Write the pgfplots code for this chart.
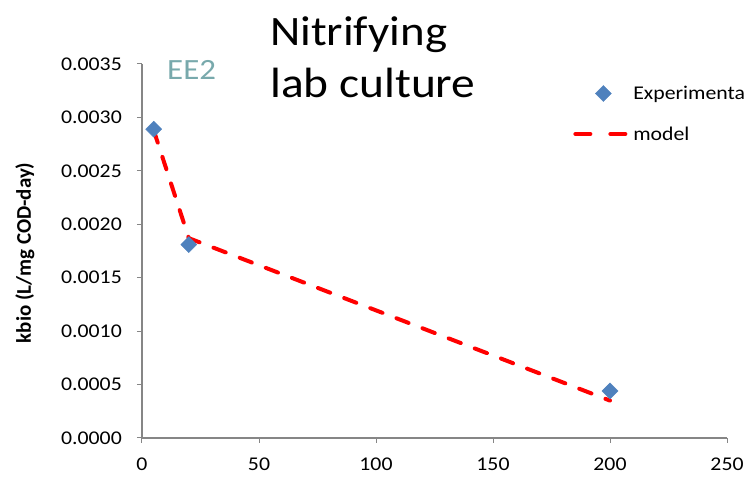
\documentclass[border=0pt]{standalone}
\usepackage{pgfplots}
\pgfplotsset{compat=1.18}
\usepackage{fontspec}
\setmainfont{Carlito}[FakeStretch=1.12]
\newfontfamily\lblfont{Carlito}
\definecolor{axgray}{HTML}{868686}
\definecolor{expblue}{HTML}{4F81BD}
\definecolor{eetxt}{HTML}{78A9AC}
\pgfplotsset{
  modellegend/.style={legend image code/.code={\draw[red, line width=4bp, line cap=round, dash pattern=on 15bp off 20bp] (0bp,0bp) -- (50bp,0bp);}},
  explegend/.style={legend image code/.code={\path[draw=none] (0bp,0bp) -- (50bp,0bp); \path[draw=none, fill=none] plot[only marks, mark=square*, mark size=5.66bp, mark options={rotate=45, fill=expblue, draw=expblue}] coordinates {(28bp,0bp)};}},
}
\begin{document}
\begin{tikzpicture}[x=1bp,y=1bp]
\path[use as bounding box, clip] (-142,-43) rectangle (603,438);
\begin{axis}[
  at={(0,0)}, anchor=south west,
  scale only axis, width=585bp, height=374bp,
  xmin=0, xmax=250, ymin=0, ymax=0.0035,
  xtick={0,50,100,150,200,250},
  ytick={0,0.0005,0.001,0.0015,0.002,0.0025,0.003,0.0035},
  scaled y ticks=false,
  yticklabel style={/pgf/number format/fixed, /pgf/number format/fixed zerofill, /pgf/number format/precision=4, xshift=-15bp},
  /pgf/number format/assume math mode=true,
  axis lines=left,
  axis line style={-, draw=axgray, line width=1.3bp},
  tick style={draw=axgray, line width=1bp},
  major tick length=5bp,
  tick align=outside,
  tick label style={font=\fontsize{19.5}{20}\selectfont, inner sep=0bp},
  xticklabel style={yshift=-15bp},
  ylabel={\lblfont\bfseries kbio (L/mg COD-day)},
  ylabel style={at={(axis description cs:-0.2,0.495)}, anchor=center, font=\fontsize{21}{23}\selectfont},
  reverse legend,
  legend style={draw=none, fill=none, inner sep=0bp,
    at={(axis description cs:0.737,0.943)}, anchor=north west,
    font=\fontsize{19.5}{20}\selectfont,
    nodes={inner sep=0bp},
    column sep=6bp, row sep=25bp},
  legend cell align=left,
]
\addplot[red, line width=4bp, line cap=round, dash pattern=on 13bp off 15bp, modellegend]
  coordinates {(5,0.00288)(20,0.00187)(200,0.00035)};
\addlegendentry{model}
\addplot[only marks, mark=square*, mark size=5.66bp, mark options={rotate=45, fill=expblue, draw=expblue}, color=expblue, explegend]
  coordinates {(5,0.00289)(20,0.00181)(200,0.00044)};
\addlegendentry{Experimental}
\end{axis}
\node[anchor=base west, inner sep=0bp, font=\fontsize{42}{50}\selectfont] at (128,392) {Nitrifying};
\node[anchor=base west, inner sep=0bp, font=\fontsize{42.5}{50}\selectfont] at (128,340) {lab culture};
\node[anchor=base west, inner sep=0bp, text=eetxt, font=\fontsize{29.5}{31}\selectfont] at (25,358) {EE2};
\end{tikzpicture}
\end{document}
